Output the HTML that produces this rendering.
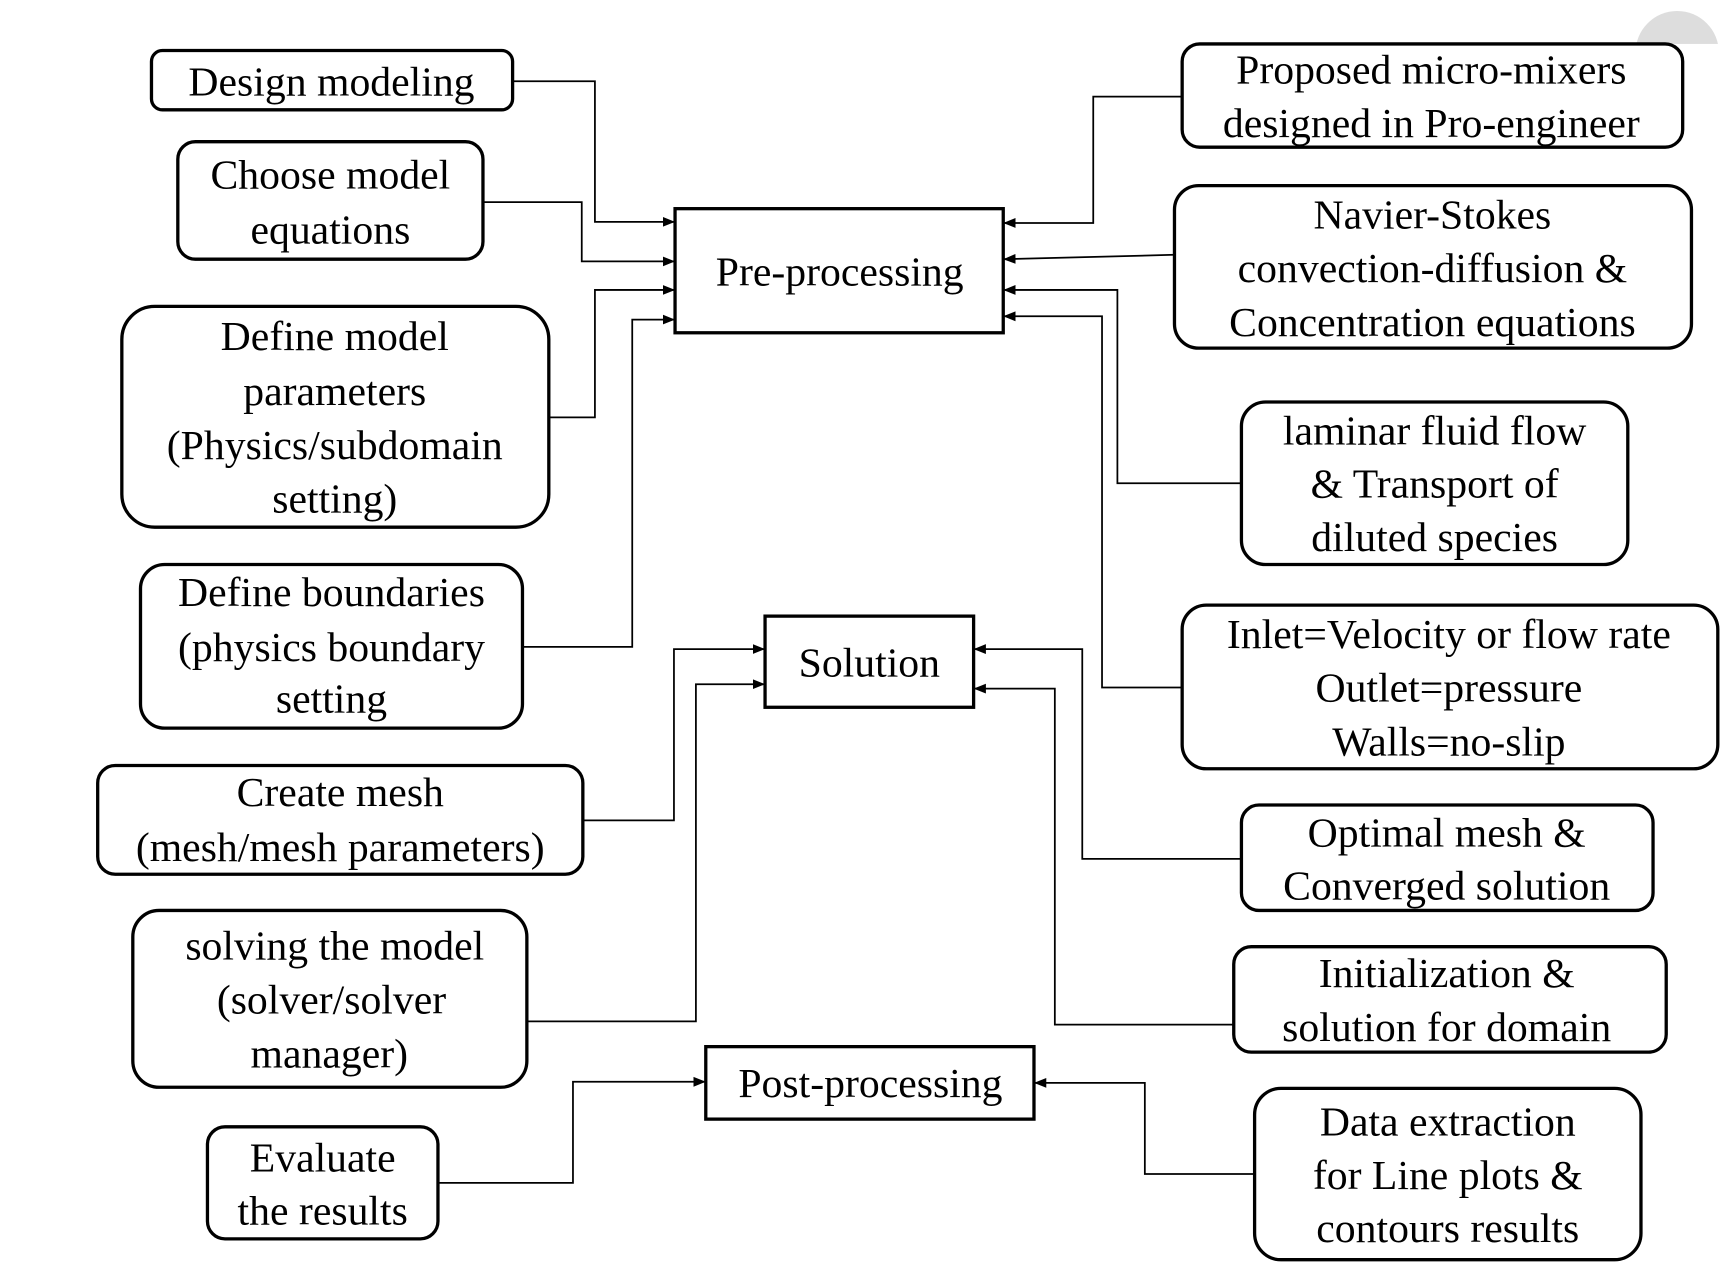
<!DOCTYPE html>
<html><head><meta charset="utf-8"><style>html,body{margin:0;padding:0;background:#fff}svg{display:block}</style></head><body>
<svg width="1720" height="1263" viewBox="0 0 1567 1150" preserveAspectRatio="none" xmlns="http://www.w3.org/2000/svg">
<defs><marker id="a" viewBox="0 0 10 10" refX="10" refY="5" markerWidth="7" markerHeight="7" orient="auto"><path d="M0,1 L10,5 L0,9 z" fill="#000"/></marker></defs>
<circle cx="1528" cy="48" r="38" fill="#ddd"/>
<rect x="1480" y="40" width="87" height="60" fill="#fff"/>
<g fill="none" stroke="#000" stroke-width="3">
<rect x="138" y="46" width="329" height="54" rx="10"/>
<rect x="162" y="129" width="278" height="107" rx="16"/>
<rect x="111" y="279" width="389" height="201" rx="30"/>
<rect x="128" y="514" width="348" height="149" rx="22"/>
<rect x="89" y="697" width="442" height="99" rx="16"/>
<rect x="121" y="829" width="359" height="161" rx="24"/>
<rect x="189" y="1026" width="210" height="102" rx="16"/>
<rect x="1077" y="40" width="456" height="94" rx="16"/>
<rect x="1070" y="169" width="471" height="148" rx="22"/>
<rect x="1131" y="366" width="352" height="148" rx="22"/>
<rect x="1077" y="551" width="488" height="149" rx="22"/>
<rect x="1131" y="733" width="375" height="96" rx="16"/>
<rect x="1124" y="862" width="394" height="96" rx="16"/>
<rect x="1143" y="991" width="352" height="156" rx="24"/>
<rect x="615" y="190" width="299" height="113"/>
<rect x="697" y="561" width="190" height="83"/>
<rect x="643" y="953" width="299" height="66"/>
</g>
<g fill="none" stroke="#000" stroke-width="1.6" marker-end="url(#a)">
<polyline points="467,74 542,74 542,202 615,202"/>
<polyline points="440,184 530,184 530,238 615,238"/>
<polyline points="500,380 542,380 542,264 615,264"/>
<polyline points="476,589 576,589 576,291 615,291"/>
<polyline points="1077,88 996,88 996,203 914,203"/>
<polyline points="1070,232 914,236"/>
<polyline points="1131,440 1018,440 1018,264 914,264"/>
<polyline points="1077,626 1004,626 1004,288 914,288"/>
<polyline points="531,747 614,747 614,591 697,591"/>
<polyline points="480,930 634,930 634,623 697,623"/>
<polyline points="1131,782 986,782 986,591 887,591"/>
<polyline points="1124,933 961,933 961,627 887,627"/>
<polyline points="399,1077 522,1077 522,985 643,985"/>
<polyline points="1143,1069 1043,1069 1043,986 942,986"/>
</g>
<g font-family="Liberation Serif, serif" font-size="38" text-anchor="middle" fill="#000" dominant-baseline="central">
<text x="302" y="75">Design modeling</text>
<text x="301" y="160">Choose model</text><text x="301" y="210">equations</text>
<text x="305" y="307">Define model</text><text x="305" y="357">parameters</text><text x="305" y="406">(Physics/subdomain</text><text x="305" y="455">setting)</text>
<text x="302" y="540">Define boundaries</text><text x="302" y="590">(physics boundary</text><text x="302" y="637">setting</text>
<text x="310" y="722">Create mesh</text><text x="310" y="772">(mesh/mesh parameters)</text>
<text x="305" y="862">solving  the model</text><text x="302" y="911">(solver/solver</text><text x="300" y="960">manager)</text>
<text x="294" y="1055">Evaluate</text><text x="294" y="1103">the results</text>
<text x="765" y="248">Pre-processing</text>
<text x="792" y="604">Solution</text>
<text x="793" y="987">Post-processing</text>
<text x="1304" y="64">Proposed micro-mixers</text><text x="1304" y="113">designed in Pro-engineer</text>
<text x="1305" y="196">Navier-Stokes</text><text x="1305" y="245">convection-diffusion &amp;</text><text x="1305" y="294">Concentration equations</text>
<text x="1307" y="393">laminar  fluid  flow</text><text x="1307" y="441">&amp; Transport  of</text><text x="1307" y="490">diluted species</text>
<text x="1320" y="578">Inlet=Velocity  or  flow rate</text><text x="1320" y="627">Outlet=pressure</text><text x="1320" y="676">Walls=no-slip</text>
<text x="1318" y="759">Optimal mesh &amp;</text><text x="1318" y="807">Converged solution</text>
<text x="1318" y="887">Initialization  &amp;</text><text x="1318" y="936">solution  for domain</text>
<text x="1319" y="1022">Data extraction</text><text x="1319" y="1071">for Line plots &amp;</text><text x="1319" y="1119">contours results</text>
</g>
</svg>
</body></html>
